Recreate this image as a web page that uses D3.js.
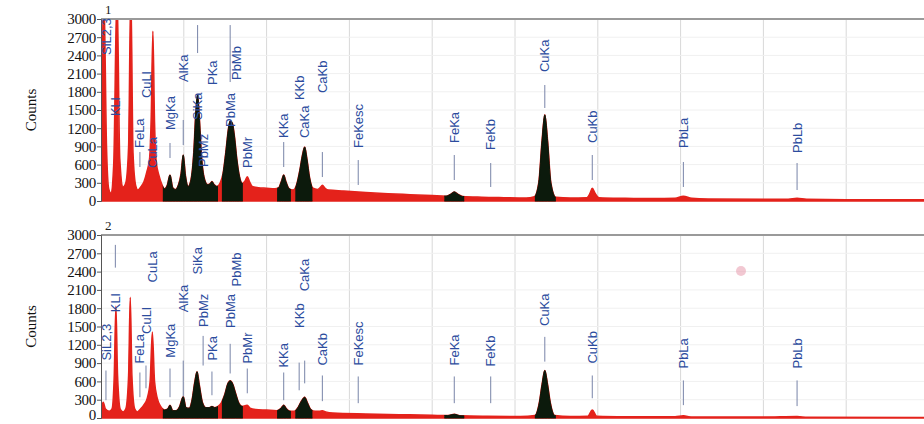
<!DOCTYPE html>
<html>
<head>
<meta charset="utf-8">
<script src="https://cdn.jsdelivr.net/npm/d3@7"></script>
<style>
  body { margin: 0; background: #fff; }
  svg { display: block; }
</style>
</head>
<body>
<svg width="924" height="424"></svg>
<script>
// peak names and their energies (keV)
const lineNames = ['SiL2,3', 'KLl', 'FeLa', 'CuLl', 'CuLa', 'MgKa', 'AlKa', 'SiKa', 'PbMz', 'PKa', 'PbMa', 'PbMb',
    'PbMr', 'KKa', 'KKb', 'CaKa', 'CaKb', 'FeKesc', 'FeKa', 'FeKb', 'CuKa', 'CuKb', 'PbLa', 'PbLb'];
const lineKeV = [0.09, 0.26, 0.705, 0.815, 0.93, 1.25, 1.49, 1.75, 1.85, 2.01, 2.34, 2.45,
    2.65, 3.31, 3.59, 3.69, 4.01, 4.66, 6.40, 7.06, 8.04, 8.90, 10.55, 12.61];

// y ticks (counts)
const countTicks = [0, 300, 600, 900, 1200, 1500, 1800, 2100, 2400, 2700, 3000];

// spectrum 1 : [keV, counts]
const spectrum1 = [
    [0.00, 600], [0.05, 3500], [0.10, 900], [0.14, 200], [0.18, 130], [0.23, 600], [0.29, 3500], [0.34, 700],
    [0.40, 230], [0.45, 300], [0.50, 900], [0.54, 3500], [0.58, 800], [0.63, 250], [0.67, 180], [0.72, 230],
    [0.78, 320], [0.83, 480], [0.88, 700], [0.91, 1400], [0.94, 2800], [0.97, 1300], [1.00, 650], [1.05, 420],
    [1.10, 280], [1.15, 200], [1.20, 260], [1.25, 430], [1.30, 220], [1.35, 190], [1.40, 260], [1.45, 450],
    [1.49, 760], [1.53, 420], [1.58, 240], [1.63, 350], [1.68, 800], [1.72, 1500], [1.75, 1750], [1.78, 1400],
    [1.82, 750], [1.87, 380], [1.93, 270], [1.97, 280], [2.01, 320], [2.05, 270], [2.10, 240], [2.16, 300],
    [2.21, 450], [2.26, 800], [2.31, 1200], [2.34, 1320], [2.38, 1280], [2.42, 1050], [2.46, 700], [2.51, 400],
    [2.56, 290], [2.61, 330], [2.65, 400], [2.69, 320], [2.74, 240], [2.85, 220], [3.00, 210], [3.15, 200],
    [3.22, 220], [3.27, 330], [3.31, 430], [3.35, 320], [3.41, 200], [3.48, 180], [3.54, 260], [3.60, 500],
    [3.65, 760], [3.69, 890], [3.73, 700], [3.78, 380], [3.84, 210], [3.92, 190], [3.97, 220], [4.01, 260],
    [4.06, 210], [4.12, 180], [4.40, 165], [4.80, 140], [5.20, 120], [5.60, 105], [6.00, 90], [6.25, 80],
    [6.33, 110], [6.40, 150], [6.47, 110], [6.55, 75], [6.90, 62], [7.30, 55], [7.70, 50], [7.85, 70],
    [7.93, 300], [7.99, 1000], [8.04, 1420], [8.09, 1000], [8.15, 300], [8.24, 60], [8.50, 50], [8.80, 55],
    [8.86, 130], [8.90, 210], [8.95, 130], [9.02, 55], [9.50, 45], [10.00, 40], [10.40, 45], [10.55, 80],
    [10.70, 45], [11.00, 35], [12.00, 30], [12.45, 30], [12.61, 45], [12.78, 28], [13.50, 22], [15.00, 20]
];

// spectrum 2 : [keV, counts]
const spectrum2 = [
    [0.00, 120], [0.04, 260], [0.08, 150], [0.15, 110], [0.20, 150], [0.24, 700], [0.27, 1830], [0.30, 700],
    [0.35, 140], [0.40, 100], [0.45, 150], [0.50, 700], [0.53, 1980], [0.56, 700], [0.61, 150], [0.66, 100],
    [0.72, 150], [0.78, 220], [0.84, 330], [0.89, 600], [0.93, 1410], [0.97, 600], [1.02, 320], [1.08, 190],
    [1.15, 130], [1.21, 150], [1.25, 210], [1.30, 120], [1.36, 120], [1.42, 180], [1.49, 350], [1.54, 170],
    [1.60, 160], [1.65, 300], [1.70, 600], [1.74, 760], [1.78, 550], [1.84, 250], [1.90, 170], [1.96, 170],
    [2.01, 190], [2.06, 170], [2.12, 190], [2.18, 250], [2.24, 380], [2.30, 570], [2.34, 610], [2.39, 550],
    [2.44, 400], [2.50, 240], [2.56, 190], [2.61, 200], [2.65, 210], [2.70, 160], [2.80, 140], [3.00, 130],
    [3.18, 120], [3.26, 160], [3.31, 210], [3.36, 150], [3.43, 110], [3.50, 110], [3.56, 160], [3.62, 260],
    [3.69, 340], [3.74, 250], [3.80, 140], [3.88, 110], [3.96, 110], [4.01, 120], [4.07, 100], [4.20, 80],
    [4.80, 65], [5.40, 55], [6.00, 45], [6.28, 40], [6.40, 60], [6.52, 35], [7.00, 28], [7.60, 25],
    [7.86, 40], [7.94, 250], [7.99, 550], [8.04, 780], [8.09, 550], [8.14, 250], [8.22, 40], [8.50, 25],
    [8.82, 30], [8.90, 130], [8.98, 30], [9.50, 22], [10.40, 20], [10.55, 35], [10.70, 18], [12.00, 15],
    [12.61, 25], [12.80, 12], [15.00, 10]
];

// fitted peak regions (keV) drawn dark
const roiRanges = [[1.12, 2.12], [2.19, 2.57], [3.19, 3.44], [3.52, 3.83], [6.22, 6.58], [7.86, 8.24]];

// label layout, in counts: bottom of each label text, and its marker line [from, to]
const labelBase1 = [2406, 1400, 873, 1697, 544, 1170, 1961, 1335, 560, 1912, 1220, 1994,
    544, 1038, 1664, 1038, 1780, 873, 956, 840, 2126, 956, 873, 791];
const marker1 = [null, null, [807, 560], null, null, [956, 709], [1335, 923], [2900, 2439], null, null, [2900, 1961], null,
    null, [972, 560], null, null, [807, 395], [675, 264], [758, 346], [626, 231], [1912, 1533], [758, 346], [643, 231], [626, 181]];
const labelBase2 = [941, 1735, 892, 1379, 2222, 989, 1735, 2352, 1492, 941, 1476, 2157,
    892, 827, 1476, 2076, 860, 860, 860, 843, 1508, 892, 811, 811];
const marker2 = [[778, 292], [2838, 2465], [746, 341], [860, 487], null, [811, 341], [941, 357], null, [1346, 860], [762, 373], [1216, 730], null,
    [811, 405], [746, 292], [908, 454], [941, 568], [697, 276], [681, 243], [681, 243], [681, 243], [1330, 924], [697, 324], [616, 211], [616, 195]];

const RED = '#e4221b';
const DARK = '#0c1a0c';
const BLUE = '#2c4c9e';

const svg = d3.select('svg');
const x = d3.scaleLinear().domain([0, 15]).range([101, 929]);

function drawPanel(num, spectrum, labelBase, markers, top, bottom) {
    const y = d3.scaleLinear().domain([0, 3000]).range([bottom, top]);
    const g = svg.append('g');

    // 裁剪区域
    const clip = svg.append('clipPath').attr('id', 'plot' + num);
    clip.append('rect').attr('x', x(0)).attr('y', top).attr('width', x(15) - x(0)).attr('height', bottom - top + 2);

    const roiClip = svg.append('clipPath').attr('id', 'roi' + num);
    roiClip.selectAll('rect').data(roiRanges).join('rect')
        .attr('x', (d) => x(d[0]))
        .attr('width', (d) => x(d[1]) - x(d[0]))
        .attr('y', top)
        .attr('height', bottom - top + 2);

    // 网格线
    g.append('g').selectAll('line').data(d3.range(1.5, 15, 1.5)).join('line')
        .attr('x1', (d) => x(d)).attr('x2', (d) => x(d))
        .attr('y1', top).attr('y2', bottom)
        .attr('stroke', '#d8d8d8').attr('stroke-width', 1);
    g.append('g').selectAll('line').data(countTicks.slice(1, -1)).join('line')
        .attr('x1', x(0)).attr('x2', 924)
        .attr('y1', (d) => y(d)).attr('y2', (d) => y(d))
        .attr('stroke', '#f0f0f0').attr('stroke-width', 1);

    // 谱图
    const area = d3.area()
        .x((d) => x(d[0]))
        .y0(y(0))
        .y1((d) => y(d[1]))
        .curve(d3.curveMonotoneX);

    g.append('path').datum(spectrum)
        .attr('d', area)
        .attr('fill', RED).attr('stroke', RED).attr('stroke-width', 1.5)
        .attr('clip-path', `url(#plot${num})`);

    g.append('g').attr('clip-path', `url(#roi${num})`)
        .append('path').datum(spectrum)
        .attr('d', area)
        .attr('fill', DARK).attr('stroke', DARK).attr('stroke-width', 1)
        .attr('clip-path', `url(#plot${num})`);

    // 顶部边框
    g.append('line')
        .attr('x1', x(0)).attr('x2', 924).attr('y1', top).attr('y2', top)
        .attr('stroke', '#9a9a9a').attr('stroke-width', 2);

    // y 轴
    const yAxis = g.append('g')
        .attr('transform', `translate(${x(0)},0)`)
        .call(d3.axisLeft(y).tickValues(countTicks).tickSize(4).tickPadding(1).tickFormat(d3.format('d')));
    yAxis.select('.domain').attr('stroke', '#555');
    yAxis.selectAll('.tick line').attr('stroke', '#555');
    yAxis.selectAll('text')
        .attr('font-family', '"Liberation Serif", serif')
        .attr('font-size', 15)
        .attr('letter-spacing', -0.3)
        .attr('fill', '#111');
    // 最下面的 0 稍微上移，避免被窗口边缘裁掉
    if (num === 2) {
        yAxis.selectAll('.tick').filter((d) => d === 0).select('text').attr('y', -3);
    }

    g.append('text')
        .attr('transform', `translate(36,${(top + bottom) / 2}) rotate(-90)`)
        .attr('text-anchor', 'middle')
        .attr('font-family', '"Liberation Serif", serif')
        .attr('font-size', 15)
        .attr('fill', '#111')
        .text('Counts');

    g.append('text')
        .attr('x', x(0) + 4).attr('y', top - 5)
        .attr('font-family', '"Liberation Serif", serif')
        .attr('font-size', 13)
        .attr('fill', '#222')
        .text(num);

    // 标记线和标签
    const peaks = lineNames.map((name, i) => ({ name, keV: lineKeV[i], base: labelBase[i], marker: markers[i] }));

    g.append('g').selectAll('line').data(peaks.filter((d) => d.marker)).join('line')
        .attr('x1', (d) => x(d.keV)).attr('x2', (d) => x(d.keV))
        .attr('y1', (d) => y(d.marker[0])).attr('y2', (d) => y(d.marker[1]))
        .attr('stroke', '#7884a8').attr('stroke-width', 1);

    g.append('g').selectAll('text').data(peaks).join('text')
        .attr('transform', (d) => `translate(${x(d.keV)},${y(d.base)}) rotate(-90)`)
        .attr('dy', '0.35em')
        .attr('font-family', '"Liberation Sans", Arial, sans-serif')
        .attr('font-size', 13)
        .attr('fill', BLUE)
        .text((d) => d.name);
}

drawPanel(1, spectrum1, labelBase1, marker1, 19, 201);
drawPanel(2, spectrum2, labelBase2, marker2, 235, 418);

// 扫描污点
svg.append('circle').attr('cx', 741).attr('cy', 271).attr('r', 5)
    .attr('fill', '#e9a3b4').attr('opacity', 0.6);
</script>
</body>
</html>
